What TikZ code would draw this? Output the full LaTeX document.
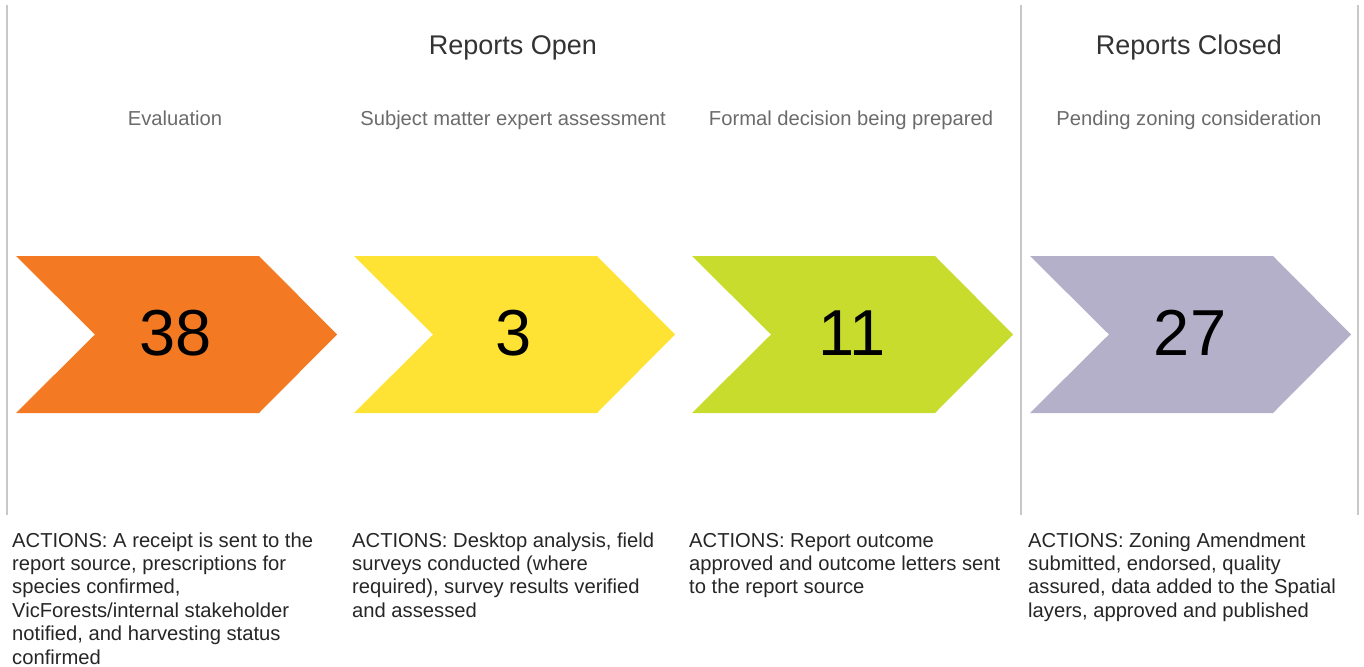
\documentclass[tikz,border=0pt]{standalone}
\usepackage{fontspec}
\setmainfont{Liberation Sans}
\definecolor{stageorange}{HTML}{F37A22}
\definecolor{stageyellow}{HTML}{FEE335}
\definecolor{stagegreen}{HTML}{C8DC2E}
\definecolor{stagelilac}{HTML}{B4B0C9}
\definecolor{rulegrey}{HTML}{C8C8C8}
\tikzset{
  heading/.style={anchor=base, inner sep=0pt, text=black!80, font=\fontsize{27}{32}\selectfont},
  stagename/.style={anchor=base, inner sep=0pt, text=black!58, font=\fontsize{20.2}{24}\selectfont},
  count/.style={anchor=base, inner sep=0pt, font=\fontsize{65}{70}\selectfont},
  actions/.style={anchor=north west, inner sep=0pt, align=left, text=black!85, font=\fontsize{20.2}{23.4}\selectfont},
  divider/.style={rulegrey, line width=1.6pt}
}
\begin{document}
\begin{tikzpicture}[x=1pt,y=-1pt]
      \useasboundingbox (0,0) rectangle (1364,666);
      % frame lines
      \draw[divider] (7,5) -- (7,515);
      \draw[divider] (1021,5) -- (1021,515);
      \draw[divider] (1358,5) -- (1358,515);
      % group headings
      \node[heading] (open) at (513,55) {Reports Open};
      \node[heading] (closed) at (1189,55) {Reports Closed};
      % chevrons with counts
      \foreach \n/\col/\num in {0/stageorange/38, 1/stageyellow/3, 2/stagegreen/11, 3/stagelilac/27}{
        \fill[\col] ({16+338*\n},256) -- ++(243,0) -- ++(78,78.5) -- ++(-78,78.5)
          -- ++(-243,0) -- ++(79,-78.5) -- cycle;
        \node[count] (count\n) at ({176+338*\n},355) {\num};
      }
      % stage names
      \node[stagename] (eval) at (175,125) {Evaluation};
      \node[stagename] (expert) at (513,125) {Subject matter expert assessment};
      \node[stagename] (formal) at (851,125) {Formal decision being prepared};
      \node[stagename] (zoning) at (1189,125) {Pending zoning consideration};
      % actions (strut keeps the first baseline at y=547)
      \node[actions] (evalact) at (12,530.6) {\strut ACTIONS: A receipt is sent to the\\report source, prescriptions for\\species confirmed,\\VicForests/internal stakeholder\\notified, and harvesting status\\confirmed};
      \node[actions] (expertact) at (352,530.6) {\strut ACTIONS: Desktop analysis, field\\surveys conducted (where\\required), survey results verified\\and assessed};
      \node[actions] (formalact) at (689,530.6) {\strut ACTIONS: Report outcome\\approved and outcome letters sent\\to the report source};
      \node[actions] (zoningact) at (1028,530.6) {\strut ACTIONS: Zoning Amendment\\submitted, endorsed, quality\\assured, data added to the Spatial\\layers, approved and published};
\end{tikzpicture}
\end{document}
